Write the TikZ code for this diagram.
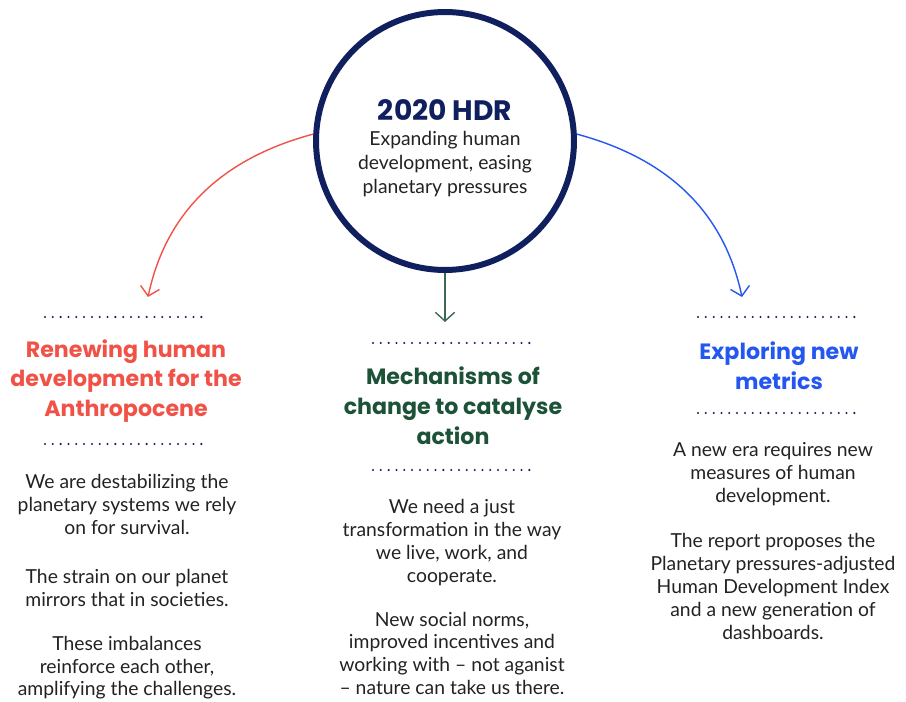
\documentclass[tikz,border=0pt]{standalone}
\usepackage{fontspec}
\setmainfont{Lato}
\newfontfamily\headfont{Poppins}
\usepackage{tikz}
\usetikzlibrary{arrows.meta}
\definecolor{hdrnavy}{RGB}{16,31,94}
\definecolor{hdrred}{RGB}{241,82,72}
\definecolor{hdrgreen}{RGB}{28,82,56}
\definecolor{hdrgreenarrow}{RGB}{62,104,84}
\definecolor{hdrblue}{RGB}{36,86,240}
\definecolor{hdrtext}{RGB}{34,34,34}
\tikzset{
  ring/.style={circle,draw=hdrnavy,line width=3.4pt,minimum size=5.16cm,inner sep=0pt},
  ringtext/.style={align=center,inner sep=0pt,text=hdrtext,font=\fontsize{11}{13.6}\selectfont},
  headline/.style={font=\headfont\fontsize{12.6}{17}\selectfont\bfseries,align=center,inner sep=0pt},
  bodytext/.style={font=\fontsize{11}{13}\selectfont,text=hdrtext,align=center,inner sep=0pt,anchor=north},
  dotrule/.style={hdrnavy,line width=1.3pt,line cap=round,dash pattern=on 0pt off 4.45pt},
  branch/.style={line width=0.8pt,-{Straight Barb[length=5pt,width=11pt]}}
}
\newcommand{\hdrtitle}{\headfont\fontsize{16}{16}\selectfont\bfseries\color{hdrnavy}2020 HDR}
\begin{document}
\begin{tikzpicture}[x=0.02cm,y=0.02cm]
\useasboundingbox (0,0) rectangle (906,-702);

% centre circle
\node[ring] (hdr) at (445,-141) {};
\node[ringtext] (hdrlabel) at (445,-148) {{\hdrtitle}\\[1pt]Expanding human\\development, easing\\planetary pressures};

% arrow ends
\coordinate (lend) at (148,-297);
\coordinate (mend) at (445,-322);
\coordinate (rend) at (742,-297);

\draw[branch,hdrred] (hdr.177) to[out=195,in=78] (lend);
\draw[branch,hdrgreenarrow] (hdr.south) -- (mend);
\draw[branch,hdrblue] (hdr.3) to[out=-15,in=102] (rend);

% headings
\node[headline,text=hdrred] (renew) at (126,-381) {Renewing human\\development for the\\Anthropocene};
\node[headline,text=hdrgreen] (mech) at (453,-406) {Mechanisms of\\change to catalyse\\action};
\node[headline,text=hdrblue] (explore) at (779,-366) {Exploring new\\metrics};

% dotted rules
\draw[dotrule] (45,-317) -- (203,-317);
\draw[dotrule] (45,-444) -- (203,-444);
\draw[dotrule] (373,-343) -- (533,-343);
\draw[dotrule] (373,-470) -- (533,-470);
\draw[dotrule] (698,-317) -- (857,-317);
\draw[dotrule] (698,-413) -- (857,-413);

% body texts
\node[bodytext] (renewtxt) at (127,-474) {We are destabilizing the\\planetary systems we rely\\on for survival.\\[15pt]
  The strain on our planet\\mirrors that in societies.\\[12pt]
  These imbalances\\reinforce each other,\\amplifying the challenges.};
\node[bodytext] (mechtxt) at (452,-499) {We need a just\\transformation in the way\\we live, work, and\\cooperate.\\[12pt]
  New social norms,\\improved incentives and\\working with -- not aganist\\-- nature can take us there.};
\node[bodytext] (exploretxt) at (773,-442) {A new era requires new\\measures of human\\development.\\[13pt]
  The report proposes the\\Planetary pressures-adjusted\\Human Development Index\\and a new generation of\\dashboards.};
\end{tikzpicture}
\end{document}
